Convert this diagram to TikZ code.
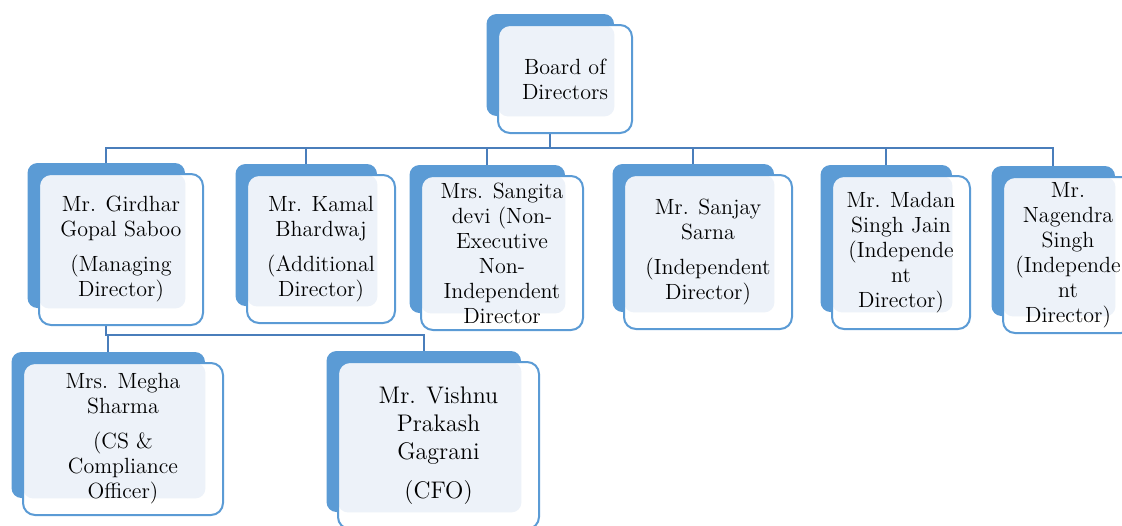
\documentclass[tikz,border=0pt]{standalone}
\definecolor{boxblue}{HTML}{5B9BD5}
\definecolor{linkblue}{HTML}{4A7EBB}
\definecolor{paleblue}{HTML}{EDF2F9}
\begin{document}
\begin{tikzpicture}[x=0.5pt, y=-0.5pt]
	\tikzset{backbox/.style={fill=boxblue, rounded corners=5pt, inner sep=0pt},
		card/.style={draw=boxblue, line width=1pt, fill=white, rounded corners=6pt, inner sep=0pt, align=center,
			font=\fontsize{11}{12.5}\selectfont,
			path picture={\fill [paleblue, rounded corners=5pt] (path picture bounding box.north west) rectangle (#1.south east);}},
		link/.style={draw=linkblue, line width=1pt}}
	\useasboundingbox (0,0) rectangle (1122,525);
	% back boxes
	\node [backbox, minimum width=63.75pt, minimum height=51pt] (bdb) at (550.25,65) {};
	\node [backbox, minimum width=78.75pt, minimum height=72.5pt] (gsb) at (106.25,235.5) {};
	\node [backbox, minimum width=70.75pt, minimum height=71pt] (kbb) at (306.25,235) {};
	\node [backbox, minimum width=77.75pt, minimum height=74pt] (sdb) at (487.25,239) {};
	\node [backbox, minimum width=80.75pt, minimum height=74pt] (ssb) at (693.25,238) {};
	\node [backbox, minimum width=65.75pt, minimum height=73.5pt] (mjb) at (886.25,238.5) {};
	\node [backbox, minimum width=61.75pt, minimum height=75pt] (nsb) at (1053.25,241) {};
	\node [backbox, minimum width=96.75pt, minimum height=73pt] (msb) at (108.25,425) {};
	\node [backbox, minimum width=97.25pt, minimum height=80.5pt] (vpb) at (423.75,431.5) {};
	% links
	\draw [link] (bdb.south) -- ++(0,32) -| (gsb.north);
	\draw [link] (bdb.south) -- ++(0,32) -| (kbb.north);
	\draw [link] (bdb.south) -- ++(0,32) -| (sdb.north);
	\draw [link] (bdb.south) -- ++(0,32) -| (ssb.north);
	\draw [link] (bdb.south) -- ++(0,32) -| (mjb.north);
	\draw [link] (bdb.south) -- ++(0,32) -| (nsb.north);
	\draw [link] (gsb.south) -- ++(0,27) -| (msb.north);
	\draw [link] (gsb.south) -- ++(0,27) -| (vpb.north);
	% front cards
	\node [card=bdb, minimum width=67pt, minimum height=54pt] (bd) at (565,79) {Board of\\Directors};
	\node [card=gsb, minimum width=82pt, minimum height=75.5pt] (gs) at (121,249.5) {Mr. Girdhar\\Gopal Saboo\\[5pt](Managing\\Director)};
	\node [card=kbb, minimum width=74pt, minimum height=74pt] (kb) at (321,249) {Mr. Kamal\\Bhardwaj\\[5pt](Additional\\Director)};
	\node [card=sdb, minimum width=81pt, minimum height=77pt] (sd) at (502,253) {Mrs. Sangita\\devi (Non-\\Executive\\Non-\\Independent\\Director};
	\node [card=ssb, minimum width=84pt, minimum height=77pt] (ss) at (708,252) {Mr. Sanjay\\Sarna\\[5pt](Independent\\Director)};
	\node [card=mjb, minimum width=69pt, minimum height=76.5pt] (mj) at (901,252.5) {Mr. Madan\\Singh Jain\\(Independe\\nt\\Director)};
	\node [card=nsb, minimum width=65pt, minimum height=78pt] (ns) at (1068,255) {Mr.\\Nagendra\\Singh\\(Independe\\nt\\Director)};
	\node [card=msb, minimum width=100pt, minimum height=76pt] (ms) at (123,439) {Mrs. Megha\\Sharma\\[5pt](CS \&\\Compliance\\Officer)};
	\node [card=vpb, minimum width=100.5pt, minimum height=83.5pt, font=\fontsize{12}{14}\selectfont] (vp) at (438.5,445.5) {Mr. Vishnu\\Prakash\\Gagrani\\[5.5pt](CFO)};
\end{tikzpicture}
\end{document}
